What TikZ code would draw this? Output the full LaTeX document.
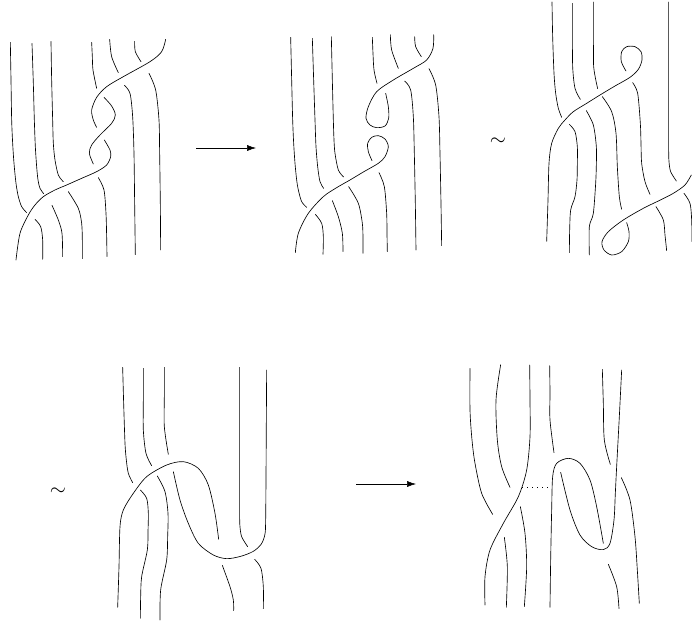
\documentclass[tikz,border=0pt]{standalone}
\usepackage{amsmath, amssymb}
\usepackage{xcolor}
\usetikzlibrary{positioning,arrows.meta}

\begin{document}
\begin{tikzpicture}[
x=1pt,y=-1pt,
strand/.style={line width=0.65pt,line cap=round,smooth},
arrow/.style={-{Latex[length=9pt,width=6pt]},line width=0.5pt},
gap/.style={line width=0.6pt,dash pattern=on 0.8pt off 4.2pt},
panel/.style={scale=0.3333},
equiv/.style={font=\huge}
]
\useasboundingbox (0,0) rectangle (692,622);

\begin{scope}[shift={(0,20)},panel]
\draw[strand] plot[smooth] coordinates {(31,67)(33,180)(35,300)(38,370)(42,430)(48,490)(55,530)(65,560)(80,578)};
\draw[strand] plot[smooth] coordinates {(96,70)(100,190)(103,300)(106,380)(110,440)(114,480)(120,505)(131,521)};
\draw[strand] plot[smooth] coordinates {(153,64)(155,180)(158,300)(160,370)(165,420)(175,465)(190,485)};
\draw[strand] plot[smooth] coordinates {(275,67)(277,110)(279,150)(290,205)};
\draw[strand] plot[smooth] coordinates {(329,58)(335,110)(355,158)};
\draw[strand] plot[smooth] coordinates {(404,64)(406,95)(423,125)};
\draw[strand] plot[smooth] coordinates {(497,58)(485,95)(450,125)(370,170)(320,200)(290,232)(275,270)(280,300)(290,322)};
\draw[strand] plot[smooth] coordinates {(312,232)(335,258)(346,285)(335,310)(300,345)(275,375)(268,400)(280,432)};
\draw[strand] plot[smooth] coordinates {(313,360)(330,390)(332,410)(320,435)(290,455)(245,475)(200,495)(165,510)(130,530)(105,555)(85,585)(60,640)(48,720)};
\draw[strand] plot[smooth] coordinates {(105,598)(122,620)(128,660)(128,718)};
\draw[strand] plot[smooth] coordinates {(156,556)(175,600)(186,640)(188,710)};
\draw[strand] plot[smooth] coordinates {(205,515)(235,565)(245,610)(247,660)(247,716)};
\draw[strand] plot[smooth] coordinates {(295,473)(312,510)(318,580)(320,650)(321,710)};
\draw[strand] plot[smooth] coordinates {(373,196)(390,220)(398,290)(402,400)(404,550)(406,704)};
\draw[strand] plot[smooth] coordinates {(447,160)(467,210)(477,300)(479,400)(481,550)(482,690)};
\end{scope}

\coordinate (a1) at (196,148);
\coordinate (b1) at (256,148);
\draw[arrow] (a1) -- (b1);

\begin{scope}[shift={(280,20)},panel]
\draw[strand] plot[smooth] coordinates {(32,52)(35,180)(38,300)(41,370)(45,430)(50,480)(55,510)(65,545)(80,562)};
\draw[strand] plot[smooth] coordinates {(97,55)(101,180)(105,300)(108,380)(113,440)(120,485)(131,505)};
\draw[strand] plot[smooth] coordinates {(154,50)(157,180)(160,300)(162,360)(165,400)(175,450)(191,471)};
\draw[strand] plot[smooth] coordinates {(277,52)(279,100)(282,150)(291,190)};
\draw[strand] plot[smooth] coordinates {(331,44)(335,90)(355,145)};
\draw[strand] plot[smooth] coordinates {(404,50)(407,80)(424,110)};
\draw[strand] plot[smooth] coordinates {(461,44)(459,85)(440,120)(400,145)(340,180)(290,215)(265,260)(258,295)(270,315)(290,323)(315,318)(326,295)(325,260)(317,220)};
\draw[strand] plot[smooth] coordinates {(276,422)(265,395)(263,370)(275,352)(295,347)(315,357)(325,380)(315,410)(295,430)(250,456)(210,480)(170,503)(130,530)(85,580)(55,640)(46,698)};
\draw[strand] plot[smooth] coordinates {(106,583)(125,610)(130,650)(129,703)};
\draw[strand] plot[smooth] coordinates {(157,542)(175,590)(187,640)(189,695)};
\draw[strand] plot[smooth] coordinates {(206,500)(235,550)(247,610)(249,655)(249,700)};
\draw[strand] plot[smooth] coordinates {(297,458)(313,500)(320,580)(321,640)(322,695)};
\draw[strand] plot[smooth] coordinates {(374,183)(392,210)(400,290)(403,400)(406,550)(408,690)};
\draw[strand] plot[smooth] coordinates {(447,146)(467,195)(477,290)(480,400)(483,550)(485,677)};
\end{scope}

\node[equiv] (sim1) at (498,142) {$\sim$};

\begin{scope}[shift={(530,0)},panel]
\draw[strand] plot[smooth] coordinates {(66,6)(68,110)(72,220)(77,280)(85,325)(95,352)};
\draw[strand] plot[smooth] coordinates {(128,10)(128,110)(128,200)(135,265)(151,298)};
\draw[strand] plot[smooth] coordinates {(191,6)(191,110)(191,200)(203,266)};
\draw[strand] plot[smooth] coordinates {(416,6)(416,160)(416,320)(416,450)(417,485)(422,515)(439,543)};
\draw[strand] plot[smooth] coordinates {(288,213)(274,185)(275,155)(290,140)(315,140)(333,155)(336,180)(325,208)(300,232)(255,258)(210,285)(170,310)(130,335)(105,360)(85,385)(65,430)(57,490)(54,600)(50,724)};
\draw[strand] plot[smooth] coordinates {(118,373)(135,395)(142,440)(142,490)(141,540)(135,590)(122,630)(119,690)(118,758)};
\draw[strand] plot[smooth] coordinates {(169,332)(190,375)(199,440)(199,495)(197,550)(190,640)(178,680)(178,765)};
\draw[strand] plot[smooth] coordinates {(217,290)(245,335)(258,400)(262,500)(268,590)(275,628)};
\draw[strand] plot[smooth] coordinates {(308,248)(323,280)(331,370)(333,430)(335,490)(345,545)(360,583)};
\draw[strand] plot[smooth] coordinates {(484,525)(465,555)(430,580)(385,603)(340,625)(280,660)(235,695)(216,725)(222,750)(245,765)(275,755)(295,725)(297,695)(290,668)};
\draw[strand] plot[smooth] coordinates {(378,620)(400,660)(405,705)(410,752)};
\draw[strand] plot[smooth] coordinates {(462,580)(480,610)(485,660)(486,725)};
\end{scope}

\node[equiv] (sim2) at (58,492) {$\sim$};

\begin{scope}[shift={(100,360)},panel]
\draw[strand] plot[smooth] coordinates {(68,22)(71,130)(75,250)(79,300)(85,340)(98,368)};
\draw[strand] plot[smooth] coordinates {(130,25)(130,120)(130,210)(138,280)(155,317)};
\draw[strand] plot[smooth] coordinates {(193,22)(193,110)(193,200)(205,283)};
\draw[strand] plot[smooth] coordinates {(419,22)(419,170)(419,340)(419,470)(420,500)(425,530)(443,560)};
\draw[strand] plot[smooth] coordinates {(500,30)(499,190)(498,360)(497,480)(495,522)(484,552)(460,574)(422,589)(380,596)(340,585)(295,550)(265,490)(240,420)(220,335)};
\draw[strand] plot[smooth] coordinates {(356,538)(345,460)(325,375)(295,325)(250,305)(200,315)(140,350)(100,400)(70,450)(60,500)(57,620)(53,742)};
\draw[strand] plot[smooth] coordinates {(121,390)(140,415)(145,460)(144,515)(142,570)(125,650)(122,710)(121,775)};
\draw[strand] plot[smooth] coordinates {(172,348)(195,395)(204,460)(203,530)(200,600)(182,690)(180,780)};
\draw[strand] plot[smooth] coordinates {(367,616)(390,680)(400,720)(401,752)};
\draw[strand] plot[smooth] coordinates {(464,598)(483,625)(490,680)(490,746)};
\end{scope}

\coordinate (a2) at (356,484);
\coordinate (b2) at (416,484);
\draw[arrow] (a2) -- (b2);

\begin{scope}[shift={(460,360)},panel]
\draw[strand] plot[smooth] coordinates {(30,25)(30,150)(36,240)(45,310)(65,400)(98,463)};
\draw[strand] plot[smooth] coordinates {(122,14)(108,120)(112,240)(125,320)(150,382)};
\draw[strand] plot[smooth] coordinates {(209,15)(210,120)(210,230)(200,330)(175,410)(130,490)(90,570)(75,650)(75,735)};
\draw[strand] plot[smooth] coordinates {(269,17)(270,100)(270,180)(282,278)};
\draw[strand] plot[smooth] coordinates {(270,742)(272,600)(275,450)(278,350)(290,310)(325,295)(360,310)(390,360)(410,440)(430,550)};
\draw[strand] plot[smooth] coordinates {(427,28)(430,130)(433,240)(451,313)};
\draw[strand] plot[smooth] coordinates {(485,30)(478,170)(470,320)(466,400)(462,480)(450,550)(430,569)(395,560)(360,525)(330,450)(302,337)};
\draw[strand] plot[smooth] coordinates {(484,353)(510,420)(525,530)(532,630)(538,730)};
\draw[strand] plot[smooth] coordinates {(181,440)(195,520)(200,620)(193,740)};
\draw[strand] plot[smooth] coordinates {(133,532)(142,620)(139,742)};
\draw[strand] plot[smooth] coordinates {(445,613)(470,680)(477,746)};
\coordinate (d1) at (186,381);
\coordinate (d2) at (272,381);
\draw[gap] (d1) -- (d2);
\end{scope}

\end{tikzpicture}
\end{document}
